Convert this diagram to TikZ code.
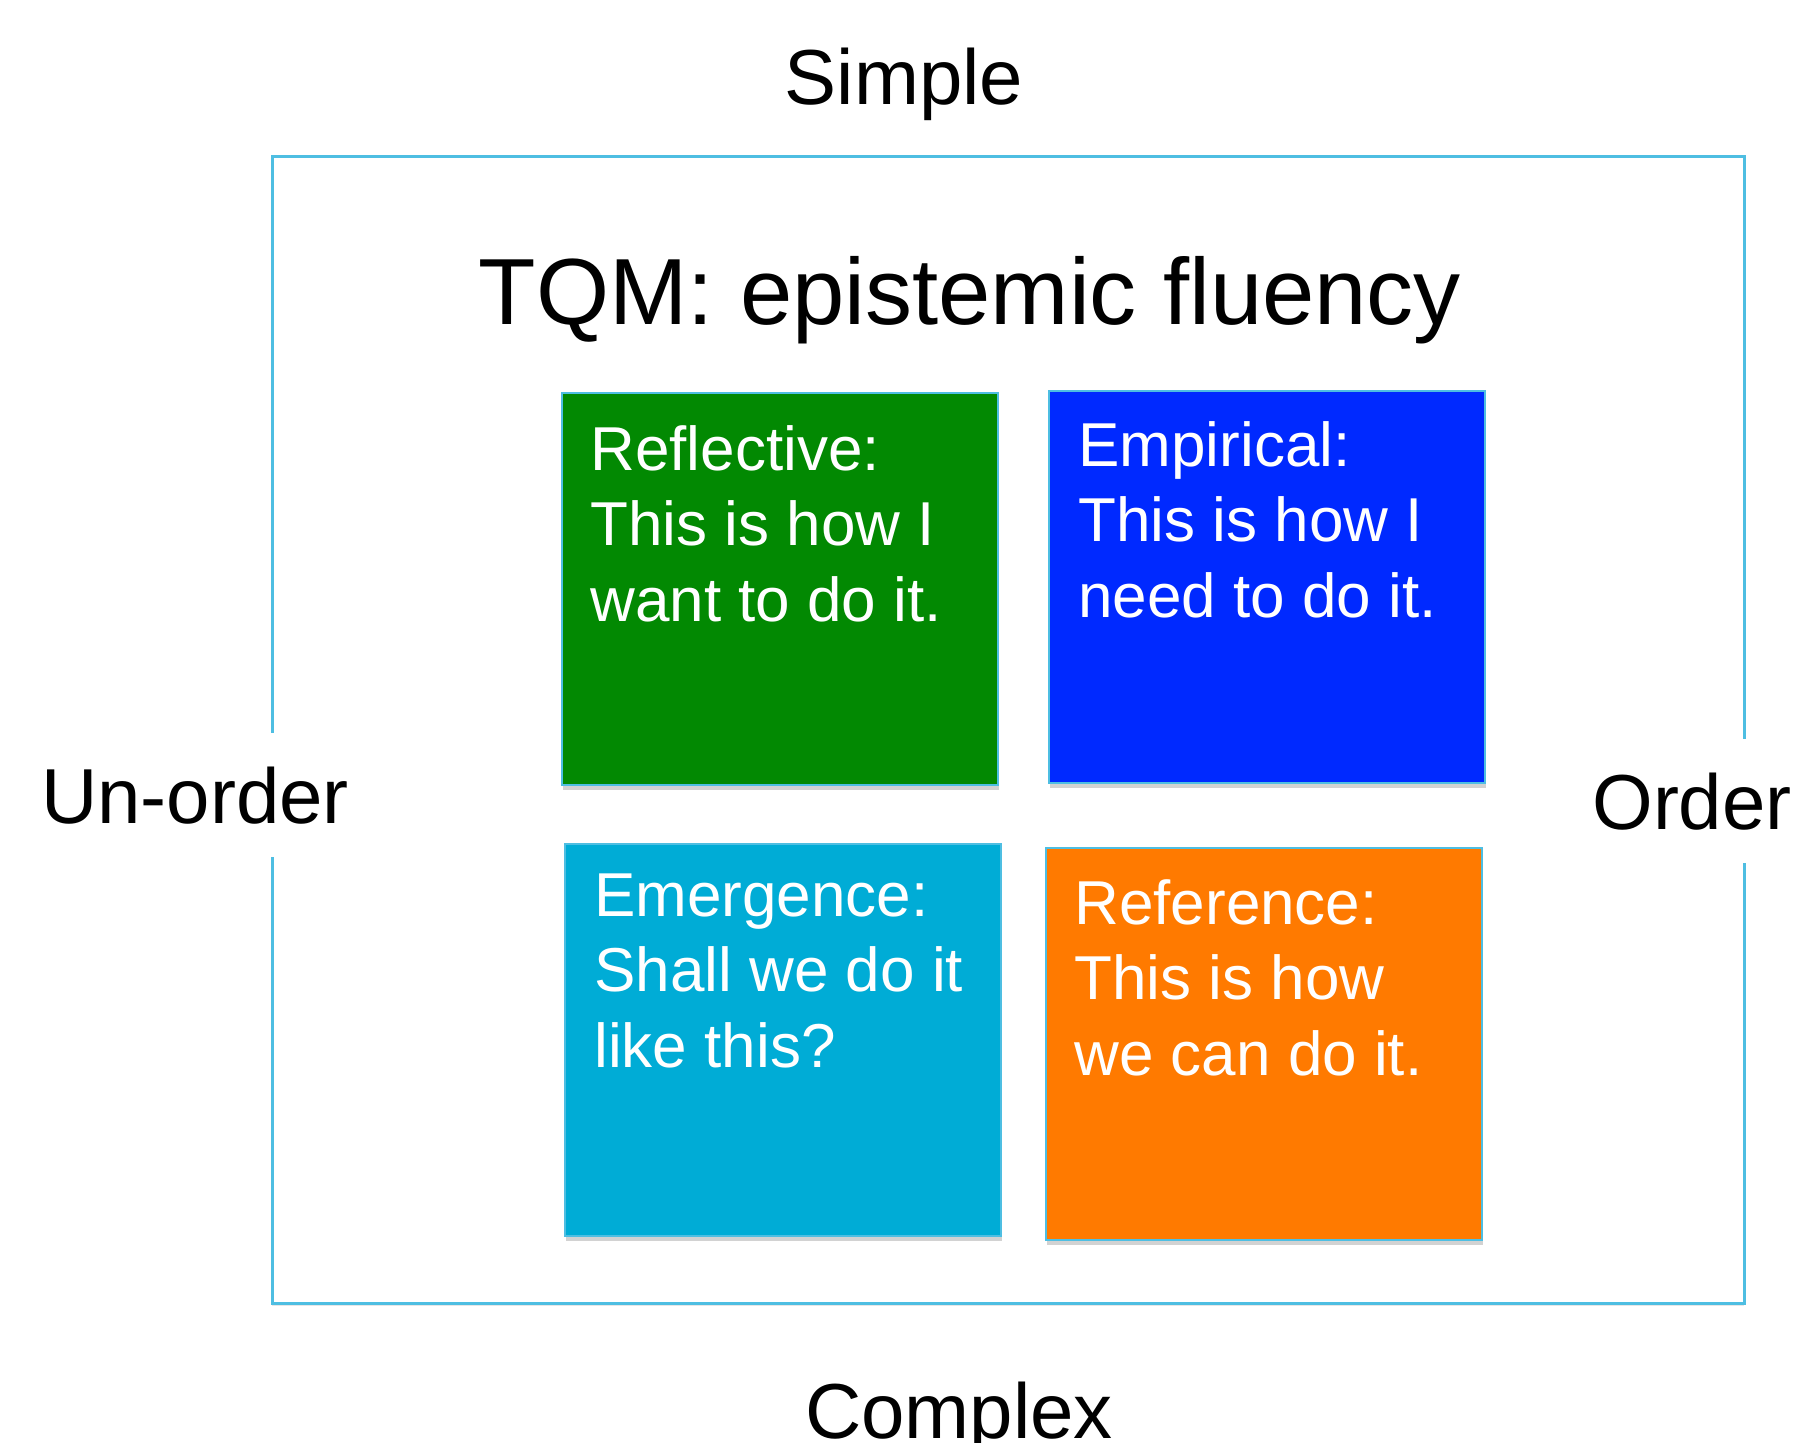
\documentclass[tikz,border=0pt]{standalone}
\usepackage{fontspec}
\setmainfont{Liberation Sans}
\usepackage{xcolor}
\usetikzlibrary{positioning,shadows}

\definecolor{framecyan}{RGB}{78,190,226}
\definecolor{reflgreen}{RGB}{2,137,2}
\definecolor{empblue}{RGB}{0,41,255}
\definecolor{emercyan}{RGB}{0,172,214}
\definecolor{reforange}{RGB}{255,122,0}

\begin{document}
\begin{tikzpicture}[
    x=0.5pt, y=-0.5pt,
    frame/.style={draw=framecyan, line width=1.5pt, fill=white,
        drop shadow={shadow xshift=0pt, shadow yshift=-1.5pt, opacity=0.2}},
    axislabel/.style={anchor=base, inner sep=0pt, font=\fontsize{39}{47}\selectfont},
    gap/.style={fill=white, inner xsep=3pt, minimum height=62pt},
    quad/.style={draw=framecyan, line width=0.8pt, anchor=north west, inner sep=0pt,
        minimum width=218pt, minimum height=196pt,
        drop shadow={shadow xshift=0.5pt, shadow yshift=-2.5pt, opacity=0.35}},
    quadtext/.style={text=white, align=left, anchor=north west, inner sep=0pt,
        font=\fontsize{31}{37.8}\selectfont}
]
\useasboundingbox (0,0) rectangle (1798,1443);

% outer frame with the two axes
\draw[frame] (272,157) rectangle (1744,1303);
\node[axislabel] (simple) at (904,105) {Simple};
\node[axislabel] (complex) at (959,1438) {Complex};
\node[axislabel, gap] (unorder) at (195,823) {Un-order};
\node[axislabel, gap] (order) at (1692,829) {Order};

% title
\node[anchor=base, font=\fontsize{47}{56}\selectfont] (title) at (970,325) {TQM: epistemic fluency};

% the four quadrants
\node[quad, fill=reflgreen] (refl) at (561,392) {};
\node[quad, fill=empblue] (emp) at (1048,390) {};
\node[quad, fill=emercyan] (emer) at (564,843) {};
\node[quad, fill=reforange] (ref) at (1045,847) {};

\node[quadtext] (refltxt) at ([shift={(29,33)}]refl.north west) {Reflective:\\This is how I\\want to do it.};
\node[quadtext] (emptxt) at ([shift={(30,31)}]emp.north west) {Empirical:\\This is how I\\need to do it.};
\node[quadtext] (emertxt) at ([shift={(30,30)}]emer.north west) {Emergence:\\Shall we do it\\like this?};
\node[quadtext] (reftxt) at ([shift={(29,32)}]ref.north west) {Reference:\\This is how\\we can do it.};
\end{tikzpicture}
\end{document}
